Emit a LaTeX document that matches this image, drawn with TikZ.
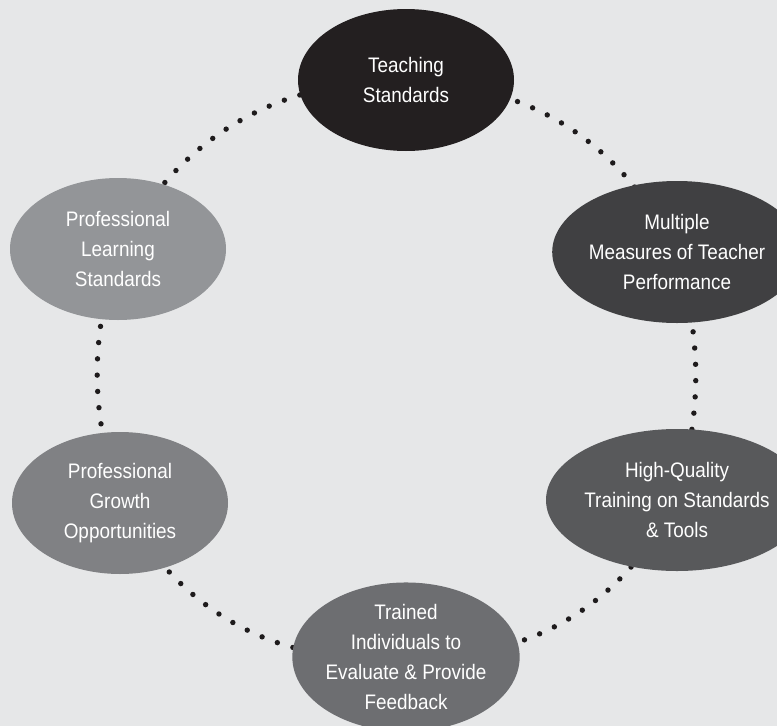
\documentclass[tikz,border=0pt]{standalone}
\usepackage{fontspec}
\setmainfont{Liberation Sans}
\newfontfamily\stagefont[FakeStretch=0.9]{Liberation Sans}
\usetikzlibrary{shapes.geometric,backgrounds}

\definecolor{bgc}{RGB}{230,231,232}
\definecolor{dotc}{RGB}{30,27,28}
\definecolor{c1}{RGB}{35,31,32}
\definecolor{c2}{RGB}{64,64,66}
\definecolor{c3}{RGB}{88,89,91}
\definecolor{c4}{RGB}{109,110,113}
\definecolor{c5}{RGB}{128,129,132}
\definecolor{c6}{RGB}{147,149,152}

\tikzset{
  stage/.style={ellipse, draw=none, inner sep=0pt,
    minimum width=216pt, minimum height=142pt,
    text=white, align=center,
    font=\stagefont\fontsize{21}{30}\selectfont},
  dotline/.style={draw=dotc, line width=5.4pt, line cap=round,
    dash pattern=on 0pt off 16.3pt},
}

\begin{document}
\begin{tikzpicture}[x=1pt,y=1pt]
  \useasboundingbox (0,0) rectangle (777,-726);
  \begin{pgfonlayer}{background}
    \fill[bgc] (0,0) rectangle (777,-726);
  \end{pgfonlayer}

  % the six stages of the cycle
  \node[stage, fill=c1] (T) at (406,-80)  {Teaching\\Standards};
  \node[stage, fill=c2] (M) at (677,-252) {Multiple\\Measures of Teacher\\Performance};
  \node[stage, fill=c3] (H) at (677,-500) {High-Quality\\Training on Standards\\\& Tools};
  \node[stage, fill=c4] (E) at (406,-657) {Trained\\Individuals to\\Evaluate \& Provide\\Feedback};
  \node[stage, fill=c5] (G) at (120,-503) {Professional\\Growth\\Opportunities};
  \node[stage, fill=c6] (L) at (118,-249) {Professional\\Learning\\Standards};

  % dotted ring linking the stages, behind the ellipses
  \begin{pgfonlayer}{background}
    \draw[dotline] (T.center) to[bend left=30] (M.center);
    \draw[dotline] (M.center) to[bend left=15] (H.center);
    \draw[dotline] (H.center) to[bend left=32] (E.center);
    \draw[dotline] (E.center) to[bend left=33] (G.center);
    \draw[dotline] (G.center) to[bend left=17] (L.center);
    \draw[dotline] (L.center) to[bend left=30] (T.center);
  \end{pgfonlayer}
\end{tikzpicture}
\end{document}
